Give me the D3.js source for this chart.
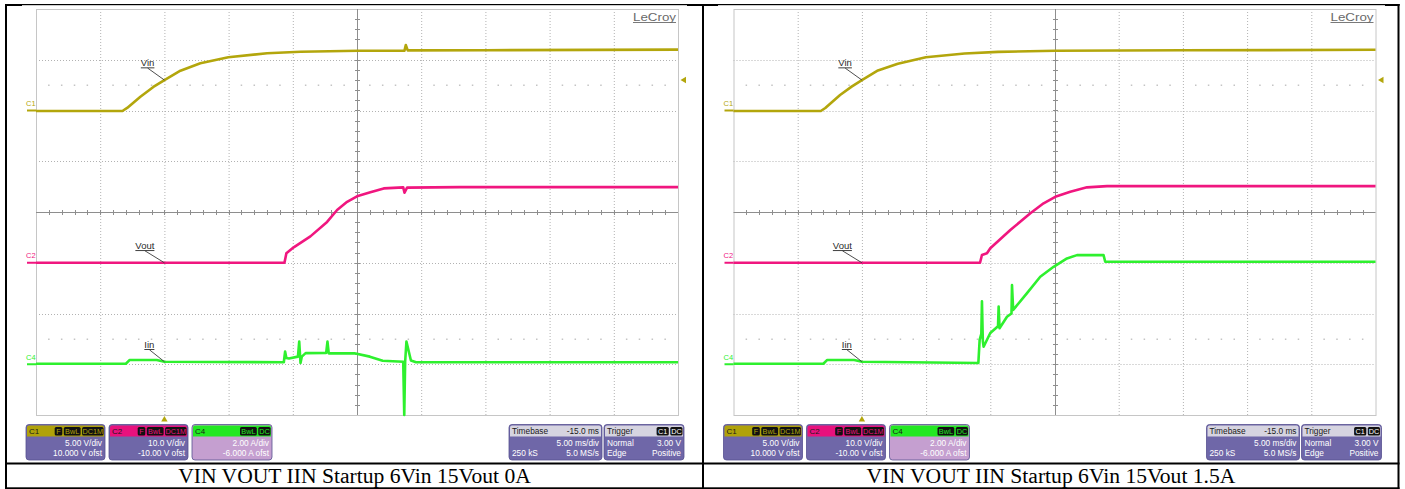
<!DOCTYPE html>
<html><head><meta charset="utf-8">
<script src="https://cdn.jsdelivr.net/npm/d3@7"></script>
<style>body{margin:0;background:#fff}svg{display:block}</style>
</head><body>
<svg id="c" width="1405" height="489"></svg>
<script>
// ---------- data ----------
const timeRangeMs = [-10, 40];           // 5 ms/div, delay -15 ms
const divisionsY = [-4, 4];
const captions = ["VIN VOUT IIN Startup 6Vin 15Vout 0A", "VIN VOUT IIN Startup 6Vin 15Vout 1.5A"];
const channelNames = ["C1", "C2", "C4"];
const voltsPerDiv = [5, 10, 2];
const offsets = [10, -10, -6];
const traceLabels = ["Vin", "Vout", "Iin"];
const divLines = ["5.00 V/div", "10.0 V/div", "2.00 A/div"];
const ofstLines = ["10.000 V ofst", "-10.00 V ofst", "-6.000 A ofst"];
const badges = [["F", "BwL", "DC1M"], ["F", "BwL", "DC1M"], ["BwL", "DC"]];
const timebaseText = ["Timebase", "-15.0 ms", "5.00 ms/div", "250 kS", "5.0 MS/s"];
const triggerText = ["Trigger", "Normal", "3.00 V", "Edge", "Positive"];
const triggerBadges = ["C1", "DC"];
const triggerLevel = 3.0;
const triggerTime = 0;

// Panel 1 (0 A load)
const vinT_a = [-10, -3.27, -2.9, -1.87, -0.86, 0, 1.25, 2.8, 4.98, 8.0, 10.6, 15.1, 18.7, 18.8, 18.95, 25, 40];
const vinV_a = [-0.05, -0.05, 0.25, 1.36, 2.32, 3.0, 3.92, 4.65, 5.24, 5.64, 5.79, 5.89, 5.9, 6.45, 5.92, 5.94, 6.0];
const voutT_a = [-10, 9.35, 9.5, 10.07, 11.37, 12.67, 13.45, 14.23, 15.0, 16.04, 17.08, 18.6, 18.7, 18.9, 23, 40];
const voutV_a = [0, 0, 1.86, 3.04, 5.2, 8.05, 10.4, 12.0, 13.1, 13.87, 14.65, 14.85, 13.8, 14.8, 14.9, 14.9];
const iinT_a = [-10, -3.0, -2.7, -0.6, 0, 9.3, 9.4, 9.5, 9.7, 10.4, 10.5, 10.6, 10.7, 11.0, 12.6, 12.7, 12.8, 14.8, 16.0, 17.0, 18.6, 18.68, 18.75, 18.85, 19.2, 19.6, 40];
const iinI_a = [0.02, 0.02, 0.17, 0.17, 0.1, 0.08, 0.5, 0.25, 0.23, 0.3, 0.89, 0.05, 0.3, 0.44, 0.45, 0.89, 0.43, 0.43, 0.3, 0.14, 0.1, -2.0, 0.1, 0.89, 0.15, 0.08, 0.08];

// Panel 2 (1.5 A load)
const vinT_b = [-10, -3.2, -2.85, -1.7, -0.8, 0, 1.25, 2.8, 4.98, 8.0, 10.6, 15.1, 25, 40];
const vinV_b = [-0.05, -0.05, 0.25, 1.53, 2.35, 3.0, 3.95, 4.6, 5.24, 5.62, 5.78, 5.88, 5.93, 5.98];
const voutT_b = [-10, 9.2, 9.35, 9.74, 10.0, 11.56, 13.12, 14.15, 15.06, 16.23, 17.53, 19.09, 40];
const voutV_b = [0, 0, 1.53, 1.86, 2.85, 6.45, 9.74, 11.72, 13.0, 14.0, 14.86, 15.1, 15.1];
const iinT_b = [-10, -3.0, -2.7, -0.6, 0, 9.07, 9.17, 9.3, 9.35, 9.42, 9.48, 10.0, 10.6, 10.65, 10.72, 11.3, 11.65, 11.69, 11.78, 12.86, 13.89, 14.93, 15.97, 16.75, 18.82, 18.95, 40];
const iinI_b = [0.02, 0.02, 0.17, 0.17, 0.1, 0.05, 0.96, 1.2, 2.48, 0.9, 0.69, 1.23, 1.5, 2.27, 1.42, 1.87, 2.0, 3.12, 2.14, 2.80, 3.45, 3.84, 4.17, 4.30, 4.30, 4.04, 4.04];

const panels = [
  { t: [vinT_a, voutT_a, iinT_a], v: [vinV_a, voutV_a, iinI_a] },
  { t: [vinT_b, voutT_b, iinT_b], v: [vinV_b, voutV_b, iinI_b] }
];

// ---------- styling / layout ----------
const W = 1405, H = 489;
const traceColors = ["#b3a60c", "#f0167f", "#2ef02e"];
const headerColors = ["#b0a20a", "#e8117d", "#22e822"];
const bodyColors = ["#6f67a8", "#6f67a8", "#c59fd0"];
const gridLeft = [36, 733.5], gridW = 642, gridTop = 9, gridBot = 415;
const SANS = "'Liberation Sans', Arial, sans-serif";

const svg = d3.select("#c");
svg.append("rect").attr("width", W).attr("height", H).attr("fill", "#fff");

panels.forEach((p, pi) => {
  const gx = gridLeft[pi];
  const g = svg.append("g");
  const x = d3.scaleLinear().domain(timeRangeMs).range([gx, gx + gridW]);
  const yd = d3.scaleLinear().domain(divisionsY).range([gridBot, gridTop]);
  const ys = voltsPerDiv.map((vd, i) =>
    d3.scaleLinear().domain([divisionsY[0] * vd - offsets[i], divisionsY[1] * vd - offsets[i]]).range([gridBot, gridTop]));

  // grid
  const vt = d3.range(timeRangeMs[0], timeRangeMs[1] + 0.01, 5);
  const hd = d3.range(divisionsY[0], divisionsY[1] + 0.01, 1);
  g.selectAll(".vg").data(vt.filter(t => t > timeRangeMs[0] && t < timeRangeMs[1] && t !== 15)).join("line")
    .attr("x1", d => x(d) + 0.5).attr("x2", d => x(d) + 0.5).attr("y1", gridTop).attr("y2", gridBot)
    .attr("stroke", "#b2b2b2").attr("stroke-dasharray", "1,2");
  g.selectAll(".hg").data(hd.filter(d => d > -4 && d < 4 && d !== 0)).join("line")
    .attr("y1", d => Math.round(yd(d)) + 0.5).attr("y2", d => Math.round(yd(d)) + 0.5).attr("x1", gx).attr("x2", gx + gridW)
    .attr("stroke", "#b2b2b2").attr("stroke-dasharray", "1,2");
  // sparse dot rows
  const dotT = d3.range(timeRangeMs[0] + 1, timeRangeMs[1], 1).filter(t => (t % 5) !== 0);
  [2.5, -2.5].forEach(dv => {
    g.selectAll(null).data(dotT).join("rect")
      .attr("x", d => x(d) - 0.75).attr("y", Math.round(yd(dv)) - 0.5).attr("width", 1.5).attr("height", 1.5)
      .attr("fill", "#c4c4c4");
  });
  // border
  g.append("rect").attr("x", gx + 0.5).attr("y", gridTop + 0.5).attr("width", gridW).attr("height", gridBot - gridTop)
    .attr("fill", "none").attr("stroke", "#c6c6c6");
  // center axes
  const cx = Math.round(x(15)) + 0.5, cy = Math.round(yd(0)) + 0.5;
  g.append("line").attr("x1", cx).attr("x2", cx).attr("y1", gridTop).attr("y2", gridBot).attr("stroke", "#8e8e8e");
  g.append("line").attr("y1", cy).attr("y2", cy).attr("x1", gx).attr("x2", gx + gridW).attr("stroke", "#8e8e8e");
  g.selectAll(null).data(d3.range(timeRangeMs[0] + 1, timeRangeMs[1], 1)).join("line")
    .attr("x1", d => Math.round(x(d)) + 0.5).attr("x2", d => Math.round(x(d)) + 0.5)
    .attr("y1", cy - 2.5).attr("y2", cy + 2.5).attr("stroke", "#8e8e8e");
  g.selectAll(null).data(d3.range(-3.8, 3.81, 0.2)).join("line")
    .attr("y1", d => Math.round(yd(d)) + 0.5).attr("y2", d => Math.round(yd(d)) + 0.5)
    .attr("x1", cx - 2.5).attr("x2", cx + 2.5).attr("stroke", "#8e8e8e");

  // LeCroy logo
  g.append("text").attr("x", gx + gridW - 2).attr("y", 20.5).attr("text-anchor", "end")
    .attr("font-family", SANS).attr("font-size", 11.5).attr("fill", "#6a6a6a")
    .attr("textLength", 43).attr("lengthAdjust", "spacingAndGlyphs").text("LeCroy");
  g.append("line").attr("x1", gx + gridW - 45).attr("x2", gx + gridW - 2).attr("y1", 22.5).attr("y2", 22.5)
    .attr("stroke", "#6a6a6a").attr("stroke-width", 0.9);

  // traces
  const line = d3.line();
  [0, 1, 2].forEach(ci => {
    const pts = p.t[ci].map((t, k) => [x(t), ys[ci](p.v[ci][k])]);
    g.append("path").attr("d", line(pts)).attr("fill", "none")
      .attr("stroke", traceColors[ci]).attr("stroke-width", 2.6).attr("stroke-linejoin", "round");
    // channel ground marker + label
    const y0 = ys[ci](0);
    g.append("line").attr("x1", gx - 9).attr("x2", gx).attr("y1", y0).attr("y2", y0)
      .attr("stroke", traceColors[ci]).attr("stroke-width", 2);
    g.append("text").attr("x", gx - 10).attr("y", y0 - 4.5).attr("font-family", SANS).attr("font-size", 7.5)
      .attr("fill", traceColors[ci]).text(channelNames[ci]);
    // annotation
    const vAt = d3.scaleLinear().domain(p.t[ci]).range(p.v[ci])(triggerTime);
    const ex = x(triggerTime), ey = ys[ci](vAt);
    const tx = ex - 10, ty = ey - 14;
    const lbl = g.append("text").attr("x", tx).attr("y", ty).attr("text-anchor", "end")
      .attr("font-family", SANS).attr("font-size", 9.5).attr("fill", "#2a2a2a").text(traceLabels[ci]);
    const tw = lbl.node().getComputedTextLength();
    g.append("line").attr("x1", tx - tw).attr("x2", tx).attr("y1", ty + 1.8).attr("y2", ty + 1.8)
      .attr("stroke", "#2a2a2a").attr("stroke-width", 0.9);
    g.append("line").attr("x1", tx - tw / 2).attr("y1", ty + 2).attr("x2", ex).attr("y2", ey)
      .attr("stroke", "#3a3a3a").attr("stroke-width", 0.9);
  });

  // trigger markers
  const tX = x(triggerTime);
  g.append("path").attr("d", `M${tX - 3.2},421.5 L${tX + 3.2},421.5 L${tX},416 Z`).attr("fill", traceColors[0]);
  const tY = ys[0](triggerLevel);
  const rx = gx + gridW + 2.5;
  g.append("path").attr("d", `M${rx},${tY} L${rx + 5.5},${tY - 3.2} L${rx + 5.5},${tY + 3.2} Z`).attr("fill", traceColors[0]);

  // info boxes
  const boxTop = 424.5, boxH = 35.5, hdrH = 12;
  function box(bx, bw, hdrFill, bodyFill) {
    const b = g.append("g");
    b.append("rect").attr("x", bx).attr("y", boxTop).attr("width", bw).attr("height", boxH).attr("rx", 3)
      .attr("fill", bodyFill).attr("stroke", "#575090").attr("stroke-width", 0.8);
    b.append("path").attr("d", `M${bx + 1},${boxTop + hdrH} L${bx + 1},${boxTop + 3} Q${bx + 1},${boxTop + 1} ${bx + 3},${boxTop + 1} L${bx + bw - 3},${boxTop + 1} Q${bx + bw - 1},${boxTop + 1} ${bx + bw - 1},${boxTop + 3} L${bx + bw - 1},${boxTop + hdrH} Z`)
      .attr("fill", hdrFill);
    return b;
  }
  function txt(sel, tx, ty, s, anchor, fill, size) {
    sel.append("text").attr("x", tx).attr("y", ty).attr("text-anchor", anchor || "start")
      .attr("font-family", SANS).attr("font-size", size || 8.3).attr("fill", fill || "#fff").text(s);
  }
  function badgeRow(sel, rightX, list, bg, fg) {
    let cur = rightX;
    list.slice().reverse().forEach(s => {
      const w = s.length * 4.6 + 3;
      cur -= w;
      sel.append("rect").attr("x", cur).attr("y", boxTop + 2.5).attr("width", w).attr("height", 8.5).attr("rx", 1.5).attr("fill", bg);
      txt(sel, cur + w / 2, boxTop + 9.6, s, "middle", fg, 7.3);
      cur -= 1.5;
    });
  }
  const chX = [gx - 10, gx + 73, gx + 156], chW = [79, 79, 80];
  [0, 1, 2].forEach(ci => {
    const b = box(chX[ci], chW[ci], headerColors[ci], bodyColors[ci]);
    txt(b, chX[ci] + 3, boxTop + 9.5, channelNames[ci], "start", "#1a1a1a", 8);
    badgeRow(b, chX[ci] + chW[ci] - 1.5, badges[ci], "#111", headerColors[ci]);
    txt(b, chX[ci] + chW[ci] - 3, boxTop + 21.5, divLines[ci], "end");
    txt(b, chX[ci] + chW[ci] - 3, boxTop + 31.8, ofstLines[ci], "end");
  });
  const tbX = gx + 473, tbW = 93;
  const tb = box(tbX, tbW, "#d6d4e0", "#6f67a8");
  txt(tb, tbX + 3, boxTop + 9.5, timebaseText[0], "start", "#1a1a1a");
  txt(tb, tbX + tbW - 3, boxTop + 9.5, timebaseText[1], "end", "#1a1a1a");
  txt(tb, tbX + tbW - 3, boxTop + 21.5, timebaseText[2], "end");
  txt(tb, tbX + 3, boxTop + 31.8, timebaseText[3], "start");
  txt(tb, tbX + tbW - 3, boxTop + 31.8, timebaseText[4], "end");
  const trX = gx + 568, trW = 80;
  const tr = box(trX, trW, "#d6d4e0", "#6f67a8");
  txt(tr, trX + 3, boxTop + 9.5, triggerText[0], "start", "#1a1a1a");
  badgeRow(tr, trX + trW - 1.5, triggerBadges, "#111", "#fff");
  txt(tr, trX + 3, boxTop + 21.5, triggerText[1], "start");
  txt(tr, trX + trW - 3, boxTop + 21.5, triggerText[2], "end");
  txt(tr, trX + 3, boxTop + 31.8, triggerText[3], "start");
  txt(tr, trX + trW - 3, boxTop + 31.8, triggerText[4], "end");
});

// ---------- table frame & captions ----------
const frame = svg.append("g").attr("fill", "#000");
frame.append("rect").attr("x", 5).attr("y", 4).attr("width", 2).attr("height", 485);
frame.append("rect").attr("x", 702).attr("y", 4).attr("width", 2).attr("height", 485);
frame.append("rect").attr("x", 1397.5).attr("y", 4).attr("width", 2).attr("height", 485);
frame.append("rect").attr("x", 5).attr("y", 4).attr("width", 1394.5).attr("height", 1.2);
[[5, 22], [687, 718], [1385, 1399.5]].forEach(s =>
  frame.append("rect").attr("x", s[0]).attr("y", 4).attr("width", s[1] - s[0]).attr("height", 2));
frame.append("rect").attr("x", 5).attr("y", 462.5).attr("width", 1394.5).attr("height", 2);
frame.append("rect").attr("x", 5).attr("y", 487.3).attr("width", 1394.5).attr("height", 1.7);

const capX = [354.5, 1051];
captions.forEach((c, i) => {
  svg.append("text").attr("x", capX[i]).attr("y", 482.5).attr("text-anchor", "middle")
    .attr("font-family", "'Liberation Serif', 'Times New Roman', serif").attr("font-size", 21.6)
    .attr("fill", "#000").text(c);
});
</script>
</body></html>
